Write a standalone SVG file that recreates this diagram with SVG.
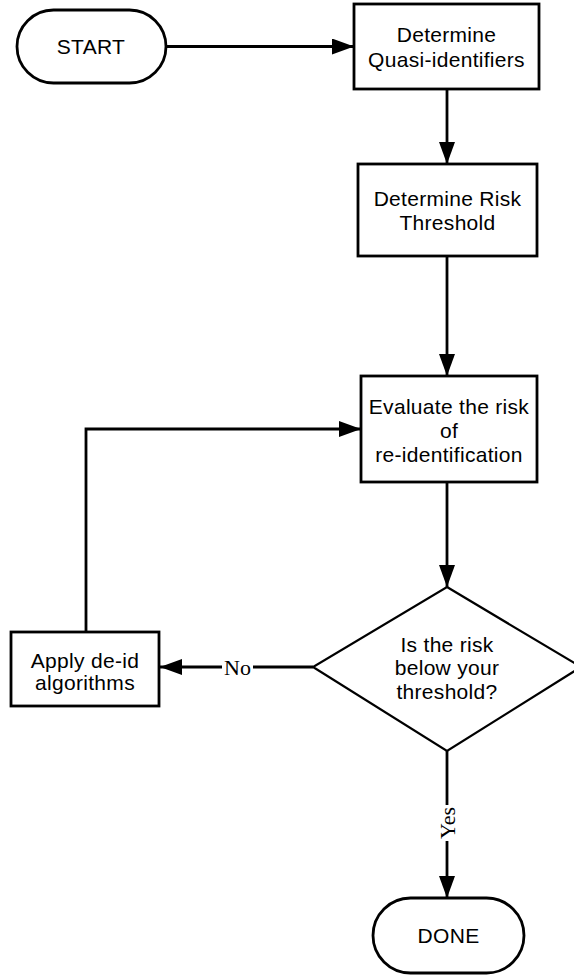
<svg xmlns="http://www.w3.org/2000/svg" width="574" height="976" viewBox="0 0 574 976">
  <style>
    .shape { fill: #ffffff; stroke: #000000; stroke-width: 2.8; }
    .decision { fill: #ffffff; stroke: #000000; stroke-width: 2.2; }
    .label { font-family: "Liberation Sans", Arial, sans-serif; font-size: 21px; letter-spacing: 0.3px; fill: #000000; text-anchor: middle; }
    .edge { fill: none; stroke: #000000; stroke-width: 2.8; }
    .edge-label { font-family: "Liberation Serif", "Times New Roman", serif; font-size: 22px; fill: #000000; text-anchor: middle; }
  </style>
  <defs>
    <marker id="arrow" viewBox="0 0 22 16" refX="22" refY="8" markerWidth="22" markerHeight="16" markerUnits="userSpaceOnUse" orient="auto">
      <path d="M0,0 L22,8 L0,16 z" fill="#000000"/>
    </marker>
  </defs>
  <rect width="574" height="976" fill="#ffffff"/>

  <!-- connectors -->
  <g id="connectors">
    <path class="edge" d="M166,46.5 L354,46.5" marker-end="url(#arrow)"/>
    <path class="edge" d="M447,89 L447,164" marker-end="url(#arrow)"/>
    <path class="edge" d="M447,256 L447,376" marker-end="url(#arrow)"/>
    <path class="edge" d="M447,482 L447,587" marker-end="url(#arrow)"/>
    <path class="edge" d="M313,667 L160,667" marker-end="url(#arrow)"/>
    <path class="edge" d="M86,632 L86,429 L361,429" marker-end="url(#arrow)"/>
    <path class="edge" d="M447,751 L447,898" marker-end="url(#arrow)"/>
    <g id="label-no">
      <rect x="222" y="655" width="31" height="24" fill="#ffffff"/>
      <text class="edge-label" x="237.5" y="675">No</text>
    </g>
    <g id="label-yes" transform="translate(447,823) rotate(-90)">
      <rect x="-18" y="-12" width="36" height="24" fill="#ffffff"/>
      <text class="edge-label" x="0" y="7.5">Yes</text>
    </g>
  </g>

  <!-- nodes -->
  <g id="start">
    <rect class="shape" x="17" y="10" width="149" height="73" rx="36.5" ry="36.5"/>
    <text class="label" x="91" y="54">START</text>
  </g>

  <g id="quasi-identifiers">
    <rect class="shape" x="354" y="4" width="185" height="85"/>
    <text class="label" x="446.5" y="42">Determine</text>
    <text class="label" x="446.5" y="67">Quasi-identifiers</text>
  </g>

  <g id="risk-threshold">
    <rect class="shape" x="358" y="164" width="179" height="92"/>
    <text class="label" x="447.5" y="206">Determine Risk</text>
    <text class="label" x="447.5" y="230">Threshold</text>
  </g>

  <g id="evaluate-risk">
    <rect class="shape" x="361" y="376" width="176" height="106"/>
    <text class="label" x="449" y="414">Evaluate the risk</text>
    <text class="label" x="449" y="438">of</text>
    <text class="label" x="449" y="462">re-identification</text>
  </g>

  <g id="below-threshold">
    <polygon class="decision" points="447,587 581,667 447,751 313,667"/>
    <text class="label" x="447" y="652">Is the risk</text>
    <text class="label" x="447" y="675">below your</text>
    <text class="label" x="447" y="699">threshold?</text>
  </g>

  <g id="apply-deid">
    <rect class="shape" x="11" y="632" width="148" height="74"/>
    <text class="label" x="85" y="668">Apply de-id</text>
    <text class="label" x="85" y="690">algorithms</text>
  </g>

  <g id="done">
    <rect class="shape" x="373" y="898" width="151" height="75" rx="37.5" ry="37.5"/>
    <text class="label" x="448.5" y="943">DONE</text>
  </g>
</svg>
